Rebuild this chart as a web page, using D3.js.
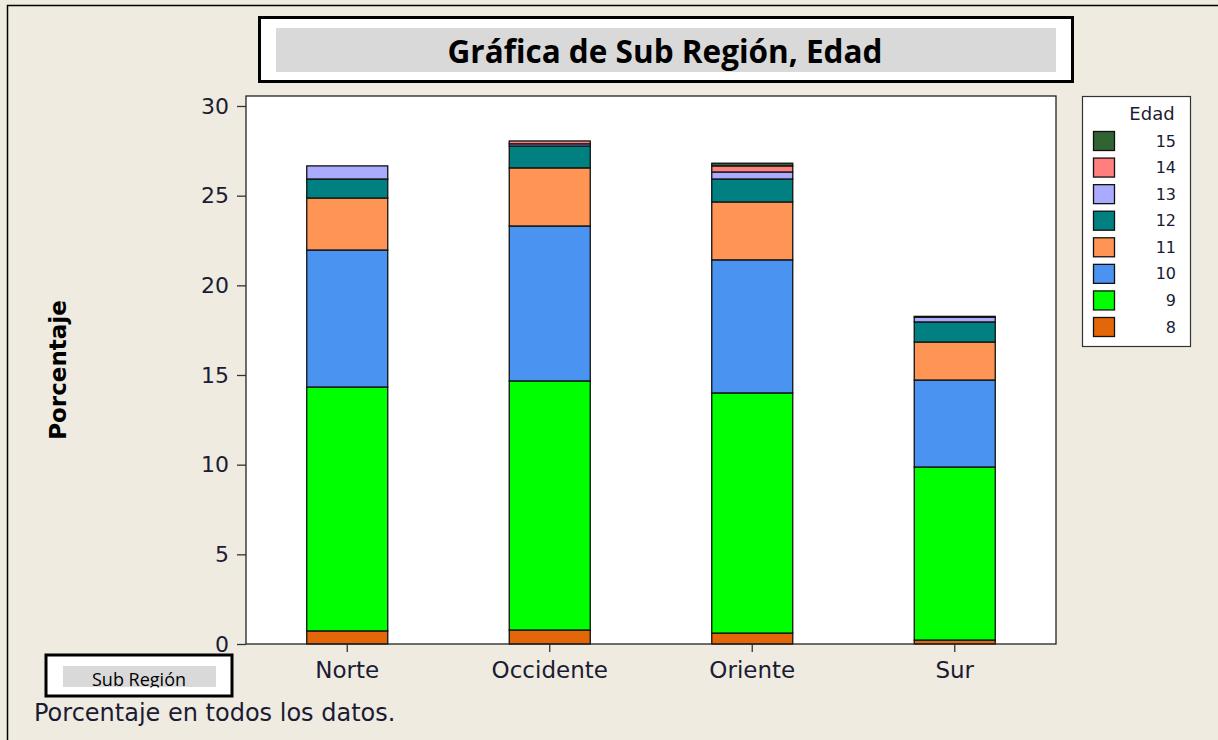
<!DOCTYPE html>
<html><head><meta charset="utf-8">
<script src="https://cdn.jsdelivr.net/npm/d3@7"></script>
<style>html,body{margin:0;padding:0;background:#EFEBE1;}svg{display:block;}</style>
</head><body>
<svg id="chart" width="1218" height="740"></svg>
<script>
const categories = ["Norte", "Occidente", "Oriente", "Sur"];
const ages = ["8", "9", "10", "11", "12", "13", "14", "15"];
const age8  = [0.73, 0.78, 0.61, 0.22];
const age9  = [13.60, 13.89, 13.39, 9.65];
const age10 = [7.64, 8.64, 7.42, 4.85];
const age11 = [2.90, 3.24, 3.23, 2.12];
const age12 = [1.06, 1.22, 1.28, 1.12];
const age13 = [0.73, 0.12, 0.39, 0.26];
const age14 = [0.00, 0.16, 0.34, 0.05];
const age15 = [0.00, 0.00, 0.15, 0.00];
const yTicks = [0, 5, 10, 15, 20, 25, 30];
const colors = ["#E36609", "#00FF00", "#4A93F0", "#FF9555", "#008080", "#AAAAFF", "#FF7F7F", "#326332"];
const titleText = "Gráfica de Sub Región, Edad";
const xTitle = "Sub Región";
const yTitle = "Porcentaje";
const footnote = "Porcentaje en todos los datos.";
const legendTitle = "Edad";

const seriesVals = [age8, age9, age10, age11, age12, age13, age14, age15];
const table = categories.map((c, i) => {
  const o = {cat: c};
  ages.forEach((a, k) => o[a] = seriesVals[k][i]);
  return o;
});
const stacked = d3.stack().keys(ages)(table);

const svg = d3.select("#chart");
const textCol = "#1B1B33";
const font = "DejaVu Sans, Verdana, sans-serif";

// outer frame
svg.append("rect").attr("x", 7.5).attr("y", 5.5).attr("width", 1230).attr("height", 760)
  .attr("fill", "#EFEBE1").attr("stroke", "#000").attr("stroke-width", 1.5);

const L = 246, R = 1056, T = 96, B = 644;
const x = d3.scaleBand().domain(categories).range([L, R]).paddingInner(0.6).paddingOuter(0.3);
const y = d3.scaleLinear().domain([0, 30]).range([B, 106]);

// plot area
svg.append("rect").attr("x", L).attr("y", T).attr("width", R - L).attr("height", B - T)
  .attr("fill", "#fff");

// bars
const g = svg.append("g");
stacked.forEach((s, k) => {
  g.selectAll(null).data(s).enter().append("rect")
    .attr("x", d => x(d.data.cat))
    .attr("width", x.bandwidth())
    .attr("y", d => y(d[1]))
    .attr("height", d => Math.max(0, y(d[0]) - y(d[1])))
    .attr("fill", colors[k])
    .attr("stroke", "#111")
    .attr("stroke-width", 1.3)
    .style("display", d => (d[1] - d[0]) > 0 ? null : "none");
});

// frame
svg.append("rect").attr("x", L).attr("y", T).attr("width", R - L).attr("height", B - T)
  .attr("fill", "none").attr("stroke", "#222").attr("stroke-width", 1.3);

// y axis
const ya = svg.append("g").attr("transform", `translate(${L},0)`)
  .call(d3.axisLeft(y).tickValues(yTicks).tickSize(9).tickPadding(8));
ya.select(".domain").remove();
ya.selectAll(".tick line").attr("stroke", "#333").attr("stroke-width", 1.3);
ya.selectAll(".tick text").attr("font-family", font)
  .attr("font-size", 22).attr("fill", textCol);

// x axis
const xa = svg.append("g").attr("transform", `translate(0,${B})`)
  .call(d3.axisBottom(x).tickSize(8).tickPadding(10));
xa.select(".domain").remove();
xa.selectAll(".tick line").attr("stroke", "#333").attr("stroke-width", 1.3);
xa.selectAll(".tick text").attr("font-family", font)
  .attr("font-size", 23).attr("fill", textCol);

// y title
svg.append("text").attr("transform", "translate(66,370) rotate(-90)")
  .attr("text-anchor", "middle").attr("font-family", font)
  .attr("font-weight", "bold").attr("font-size", 23).attr("fill", "#000").text(yTitle);

// title box
svg.append("rect").attr("x", 259.5).attr("y", 17.5).attr("width", 813).attr("height", 64)
  .attr("fill", "#fff").attr("stroke", "#000").attr("stroke-width", 3);
svg.append("rect").attr("x", 276).attr("y", 28).attr("width", 780).attr("height", 44)
  .attr("fill", "#D9D9D9");
svg.append("text").attr("x", 665).attr("y", 63).attr("text-anchor", "middle")
  .attr("font-family", "Open Sans, Liberation Sans, sans-serif").attr("font-weight", "bold")
  .attr("font-size", 31.5).attr("fill", "#000").text(titleText);

// x title box
svg.append("rect").attr("x", 46).attr("y", 655).attr("width", 186).attr("height", 41)
  .attr("fill", "#fff").attr("stroke", "#000").attr("stroke-width", 3);
svg.append("rect").attr("x", 63).attr("y", 666).attr("width", 153).attr("height", 21)
  .attr("fill", "#D9D9D9");
svg.append("clipPath").attr("id", "xtclip").append("rect")
  .attr("x", 63).attr("y", 660).attr("width", 153).attr("height", 27.5);
svg.append("text").attr("x", 139).attr("y", 686).attr("text-anchor", "middle")
  .attr("clip-path", "url(#xtclip)")
  .attr("font-family", "Open Sans, Liberation Sans, sans-serif")
  .attr("font-size", 18).attr("fill", "#000").text(xTitle);

// footnote
svg.append("text").attr("x", 34).attr("y", 721)
  .attr("font-family", font)
  .attr("font-size", 24).attr("fill", textCol).text(footnote);

// legend
const lg = svg.append("g");
lg.append("rect").attr("x", 1082.5).attr("y", 96.5).attr("width", 108).attr("height", 250)
  .attr("fill", "#fff").attr("stroke", "#333").attr("stroke-width", 1.2);
lg.append("text").attr("x", 1152).attr("y", 120).attr("text-anchor", "middle")
  .attr("font-family", font).attr("font-size", 18)
  .attr("fill", textCol).text(legendTitle);
const legAges = ages.slice().reverse();
const ly = d3.scalePoint().domain(legAges).range([141, 327]);
legAges.forEach(a => {
  const k = ages.indexOf(a);
  lg.append("rect").attr("x", 1093.5).attr("y", ly(a) - 9.5).attr("width", 21).attr("height", 19)
    .attr("fill", colors[k]).attr("stroke", "#111").attr("stroke-width", 1.3);
  lg.append("text").attr("x", 1176).attr("y", ly(a)).attr("dy", "0.35em").attr("text-anchor", "end")
    .attr("font-family", font).attr("font-size", 16)
    .attr("fill", textCol).text(a);
});
</script>
</body></html>
